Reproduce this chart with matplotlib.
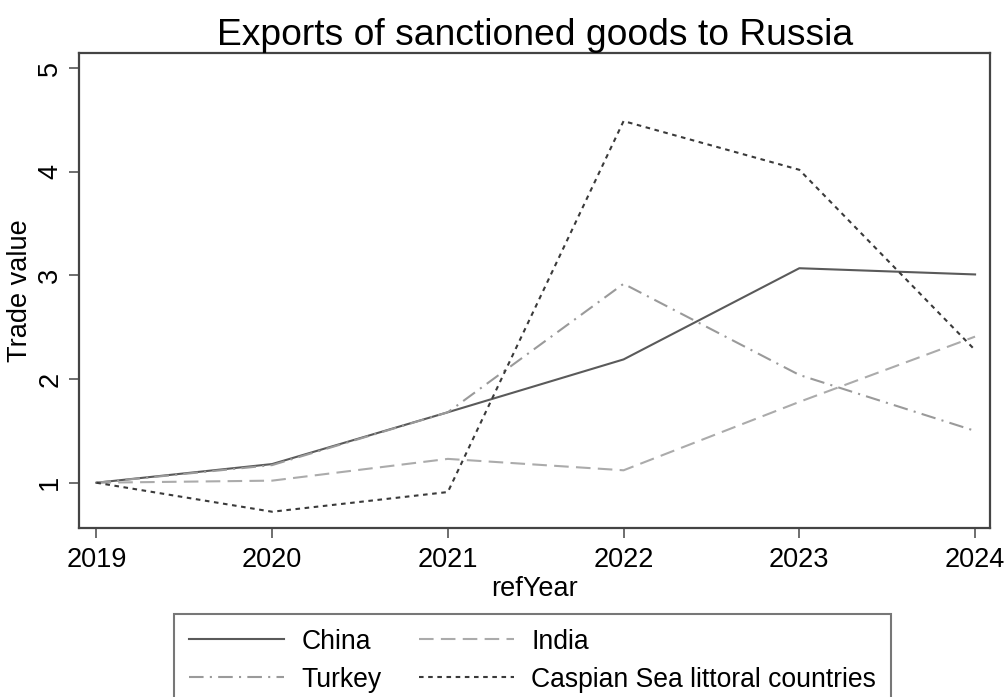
import matplotlib
matplotlib.use("Agg")
import matplotlib.pyplot as plt

plt.rcParams['font.family'] = ['Liberation Sans', 'DejaVu Sans']

years = [2019, 2020, 2021, 2022, 2023, 2024]
china = [1.00, 1.18, 1.68, 2.19, 3.07, 3.01]
india = [1.00, 1.02, 1.23, 1.12, 1.78, 2.41]
turkey = [1.00, 1.17, 1.68, 2.92, 2.04, 1.50]
caspian = [1.00, 0.72, 0.91, 4.49, 4.02, 2.28]
y_ticks = [1, 2, 3, 4, 5]

fig = plt.figure(figsize=(10.06, 6.97), dpi=100)
ax = fig.add_axes([79.3 / 1006, 1 - 528 / 697, (990 - 79.3) / 1006, (528 - 52.7) / 697])

lw = 1.5
h_china, = ax.plot(years, china, color="#5a5a5a", lw=lw, solid_joinstyle="round")
h_india, = ax.plot(years, india, color="#ababab", lw=lw, dashes=(7, 3.5))
h_turkey, = ax.plot(years, turkey, color="#9a9a9a", lw=lw, dashes=(7, 3, 1, 3))
h_casp, = ax.plot(years, caspian, color="#3a3a3a", lw=lw, dashes=(2.2, 2.2))

ax.set_xlim(2018.903, 2024.085)
ax.set_ylim(0.563, 5.15)
ax.set_xticks(years)
ax.set_yticks(y_ticks)
ax.set_xticklabels([str(y) for y in years])
ax.set_yticklabels([str(t) for t in y_ticks], rotation=90, va="center")

for s in ax.spines.values():
    s.set_color("#444444")
    s.set_linewidth(1.6)
ax.tick_params(axis="both", direction="out", length=7.5, width=1.2, color="#555555",
               labelsize=19.5)
ax.tick_params(axis="y", pad=4)
ax.tick_params(axis="x", pad=6)

ax.set_title("Exports of sanctioned goods to Russia", fontsize=26.8, pad=1)
ax.set_xlabel("refYear", fontsize=19.5, labelpad=2)
ax.set_ylabel("Trade value", fontsize=19.5)
ax.yaxis.set_label_coords(-0.051, 0.5)

# column-major order gives rows: China | India, Turkey | Caspian
handles = [h_china, h_turkey, h_india, h_casp]
labels = ["China", "Turkey", "India", "Caspian Sea littoral countries"]
leg = fig.legend(handles, labels, ncol=2, loc="upper left",
                 bbox_to_anchor=(174 / 1006, 1 - 614 / 697),
                 fontsize=19.1, frameon=True, fancybox=False,
                 handlelength=3.6, handletextpad=0.65, columnspacing=1.4,
                 labelspacing=0.45, borderpad=0.55, borderaxespad=0)
leg.get_frame().set_edgecolor("#555555")
leg.get_frame().set_linewidth(1.5)
fig.savefig("out.png", dpi=100, facecolor="white")
